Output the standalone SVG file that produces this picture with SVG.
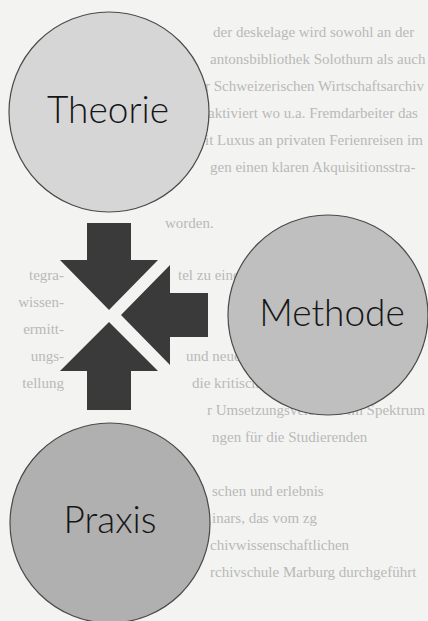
<svg xmlns="http://www.w3.org/2000/svg" width="428" height="621" viewBox="0 0 428 621">
  <style>
    .bg { fill: #f3f3f1; }
    .ghost { font-family: "Liberation Serif", "DejaVu Serif", serif; font-size: 15px; fill: #b9b9b9; }
    .ghost-end { text-anchor: end; }
    .node circle { stroke: #4a4a4a; stroke-width: 1.2; }
    .label { font-family: Lato, "Open Sans", "Liberation Sans", sans-serif; font-weight: 300; font-size: 37px; fill: #161616; text-anchor: middle; }
    .arrow { fill: #3b3a3a; }
  </style>
  <rect class="bg" x="0" y="0" width="428" height="621"/>
  <g id="show-through">
    <text class="ghost" x="213" y="37">der deskelage wird sowohl an der</text>
    <text class="ghost" x="210" y="64">antonsbibliothek Solothurn als auch</text>
    <text class="ghost" x="205" y="91">r Schweizerischen Wirtschaftsarchiv</text>
    <text class="ghost" x="208" y="118">aktiviert wo u.a. Fremdarbeiter das</text>
    <text class="ghost" x="205" y="145">it Luxus an privaten Ferienreisen im</text>
    <text class="ghost" x="210" y="172">gen einen klaren Akquisitionsstra-</text>
    <text class="ghost" x="165" y="228">worden.</text>
    <text class="ghost" x="178" y="280">tel zu einer Integra-</text>
    <text class="ghost" x="186" y="361">und neueres Forschungs-</text>
    <text class="ghost" x="192" y="388">die kritische Darstellung</text>
    <text class="ghost" x="207" y="415">r Umsetzungsversuche im Spektrum</text>
    <text class="ghost" x="212" y="442">ngen für die Studierenden</text>
    <text class="ghost" x="212" y="496">schen und erlebnis</text>
    <text class="ghost" x="212" y="523">inars, das vom zg</text>
    <text class="ghost" x="210" y="550">chivwissenschaftlichen</text>
    <text class="ghost" x="210" y="577">rchivschule Marburg durchgeführt</text>
    <text class="ghost ghost-end" x="64" y="280">tegra-</text>
    <text class="ghost ghost-end" x="64" y="307">wissen-</text>
    <text class="ghost ghost-end" x="64" y="334">ermitt-</text>
    <text class="ghost ghost-end" x="64" y="361">ungs-</text>
    <text class="ghost ghost-end" x="64" y="388">tellung</text>
  </g>
  <g id="node-theorie" class="node">
    <circle cx="109" cy="112" r="100" fill="#d6d6d6"/>
    <text class="label" x="108" y="123">Theorie</text>
  </g>
  <g id="node-methode" class="node">
    <circle cx="328" cy="315" r="100" fill="#bfbfbf"/>
    <text class="label" x="332" y="326">Methode</text>
  </g>
  <g id="node-praxis" class="node">
    <circle cx="110" cy="523" r="100" fill="#b0b0b0"/>
    <text class="label" x="110" y="533">Praxis</text>
  </g>
  <g id="connectors">
    <polygon class="arrow" points="87,223 131,223 131,260 158,260 109,310 60,260 87,260"/>
    <polygon class="arrow" points="208,293 208,337 170,337 170,365 121,315 170,265 170,293"/>
    <polygon class="arrow" points="87,410 131,410 131,371 158,371 109,322 60,371 87,371"/>
  </g>
</svg>
